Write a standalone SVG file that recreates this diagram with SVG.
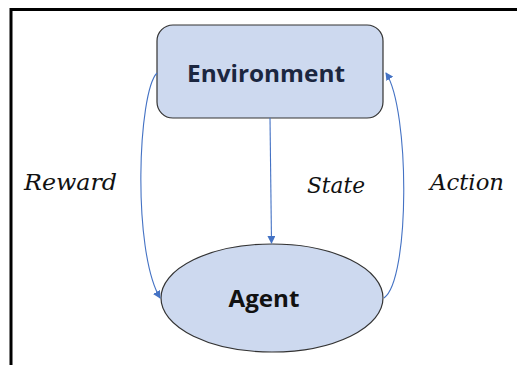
<svg xmlns="http://www.w3.org/2000/svg" width="517" height="365" viewBox="0 0 517 365">
<style>
.node{fill:#cdd9ef;stroke:#333;stroke-width:1.2}
.title{font-family:"Open Sans","Liberation Sans",sans-serif;font-weight:bold;font-size:24px;text-anchor:middle}
.lbl{font-family:"DejaVu Serif","Liberation Serif",serif;font-style:italic;font-size:23px;fill:#111}
.edge{fill:none;stroke:#4472c4;stroke-width:1.1}
</style>
<defs>
<marker id="ah" markerWidth="8" markerHeight="8" refX="7" refY="4" orient="auto" markerUnits="userSpaceOnUse">
<path d="M0,0 L8,4 L0,8 Z" fill="#4472c4"/>
</marker>
</defs>
<rect width="517" height="365" fill="#fff"/>
<path d="M11,365 V9.5 H517" fill="none" stroke="#000" stroke-width="3"/>
<g id="environment">
<rect class="node" x="157" y="25" width="226" height="93" rx="16"/>
<text class="title" x="266" y="82" fill="#1b2640" textLength="158" lengthAdjust="spacingAndGlyphs">Environment</text>
</g>
<g id="agent">
<ellipse class="node" cx="272" cy="298" rx="111" ry="54"/>
<text class="title" x="264" y="307" fill="#111" textLength="71" lengthAdjust="spacingAndGlyphs">Agent</text>
</g>
<g id="connectors">
<path class="edge" d="M270,118 L271.5,243" marker-end="url(#ah)"/>
<path class="edge" d="M157,73 C138,92 132,250 160,298" marker-end="url(#ah)"/>
<path class="edge" d="M384,298 C410,280 410,110 386,73" marker-end="url(#ah)"/>
</g>
<g id="labels">
<text class="lbl" x="24" y="190" textLength="93" lengthAdjust="spacingAndGlyphs">Reward</text>
<text class="lbl" x="307" y="193" textLength="58" lengthAdjust="spacingAndGlyphs">State</text>
<text class="lbl" x="430" y="190" textLength="74" lengthAdjust="spacingAndGlyphs">Action</text>
</g>
</svg>
